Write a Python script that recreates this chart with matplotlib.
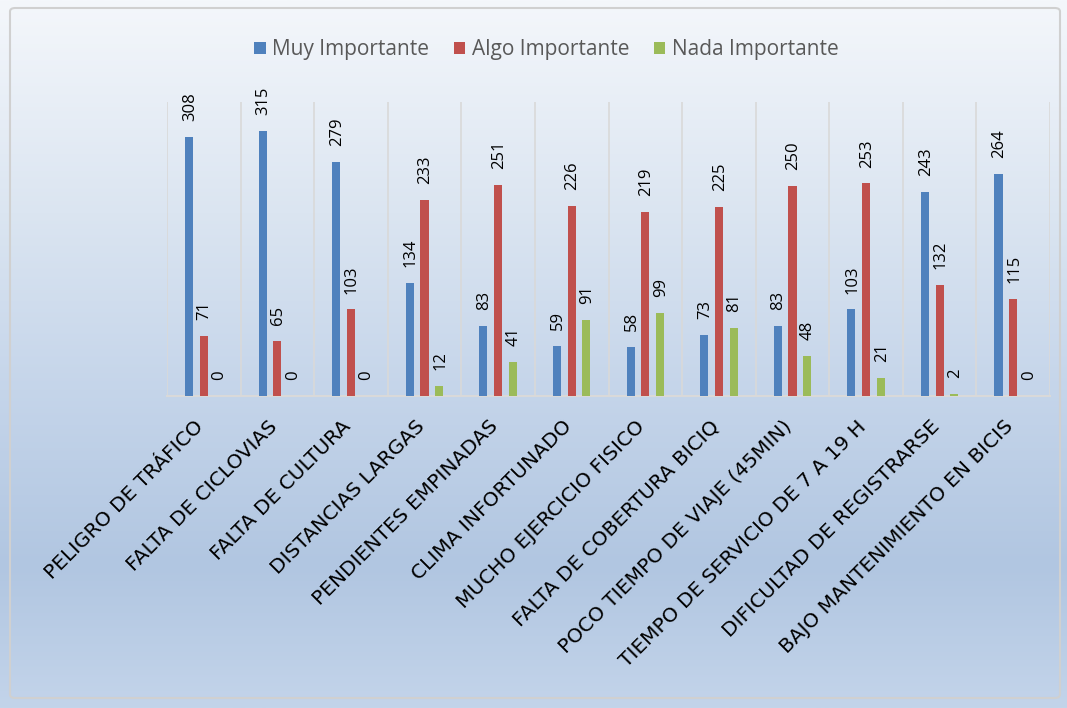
import numpy as np
import matplotlib
matplotlib.use("Agg")
import matplotlib.pyplot as plt
from matplotlib.colors import LinearSegmentedColormap
from matplotlib.patches import FancyBboxPatch
from matplotlib.transforms import ScaledTranslation

categorias = ["PELIGRO DE TRÁFICO", "FALTA DE CICLOVIAS", "FALTA DE CULTURA",
              "DISTANCIAS LARGAS", "PENDIENTES EMPINADAS", "CLIMA INFORTUNADO",
              "MUCHO EJERCICIO FISICO", "FALTA DE COBERTURA BICIQ",
              "POCO TIEMPO DE VIAJE (45MIN)", "TIEMPO DE SERVICIO DE 7 A 19 H",
              "DIFICULTAD DE REGISTRARSE", "BAJO MANTENIMIENTO EN BICIS"]
muy = [308, 315, 279, 134, 83, 59, 58, 73, 83, 103, 243, 264]
algo = [71, 65, 103, 233, 251, 226, 219, 225, 250, 253, 132, 115]
nada = [0, 0, 0, 12, 41, 91, 99, 81, 48, 21, 2, 0]
series = ["Muy Importante", "Algo Importante", "Nada Importante"]
colores = ["#4f81bd", "#c0504d", "#9bbb59"]

plt.rcParams['font.family'] = ['Open Sans', 'DejaVu Sans']

fig = plt.figure(figsize=(10.67, 7.08), dpi=100)

# fondo degradado
bg = fig.add_axes([0, 0, 1, 1], zorder=0)
cmap = LinearSegmentedColormap.from_list("bg", [(0, "#f4f7fb"), (0.3, "#dbe5f1"),
                                                (0.55, "#c5d5ea"), (0.8, "#b1c6e1"),
                                                (1, "#c3d4ea")])
bg.imshow(np.linspace(0, 1, 256).reshape(-1, 1), aspect="auto", cmap=cmap,
          extent=[0, 1, 0, 1], origin="upper")
bg.add_patch(FancyBboxPatch((10 / 1067, 10 / 708), 1050 / 1067, 690 / 708,
                            boxstyle="round,pad=0,rounding_size=0.005",
                            fill=False, ec="#d0d0d0", lw=1.5, transform=bg.transAxes))
bg.set_xlim(0, 1)
bg.set_ylim(0, 1)
bg.axis("off")

ax = fig.add_axes([167 / 1067, 1 - 396 / 708, 883 / 1067, 294 / 708], zorder=1)
ax.patch.set_alpha(0)

x = np.arange(len(categorias))
w = 0.11
offs = [-0.2, 0, 0.2]
for vals, lab, c, o in zip([muy, algo, nada], series, colores, offs):
    bars = ax.bar(x + o, vals, w, color=c, label=lab, zorder=3)
    for b, v in zip(bars, vals):
        ax.annotate(str(v), (b.get_x() + b.get_width() / 2 + 0.012, v),
                    xytext=(0, 11.5), textcoords="offset points", rotation=90,
                    ha="center", va="bottom", fontsize=12, color="black", zorder=4)

ax.set_xlim(-0.5, len(categorias) - 0.5)
ax.set_ylim(0, 350)
ax.set_yticks([])
ax.set_xticks(x)
ax.set_xticklabels(categorias, rotation=45, ha="right", rotation_mode="anchor",
                   fontsize=14.5, family="DejaVu Sans")
ax.tick_params(axis="x", length=0, pad=15)
shift = ScaledTranslation(-7 / 72, 0, fig.dpi_scale_trans)
for t in ax.get_xticklabels():
    t.set_transform(t.get_transform() + shift)
ax.set_xticks(np.arange(len(categorias) + 1) - 0.5, minor=True)
ax.tick_params(axis="x", which="minor", length=0)
ax.grid(axis="x", which="minor", color="#d9d9d9", lw=1.2, zorder=0)
for s in ["top", "left", "right"]:
    ax.spines[s].set_visible(False)
ax.spines["bottom"].set_color("#d9d9d9")
ax.spines["bottom"].set_linewidth(1.5)

fig.legend(loc="center", bbox_to_anchor=(0.512, 1 - 50 / 708), ncol=3, frameon=False,
           fontsize=15, handlelength=0.55, handleheight=0.55, handletextpad=0.3,
           columnspacing=1.2, labelcolor="#595959")

fig.savefig("out.png", dpi=100)
